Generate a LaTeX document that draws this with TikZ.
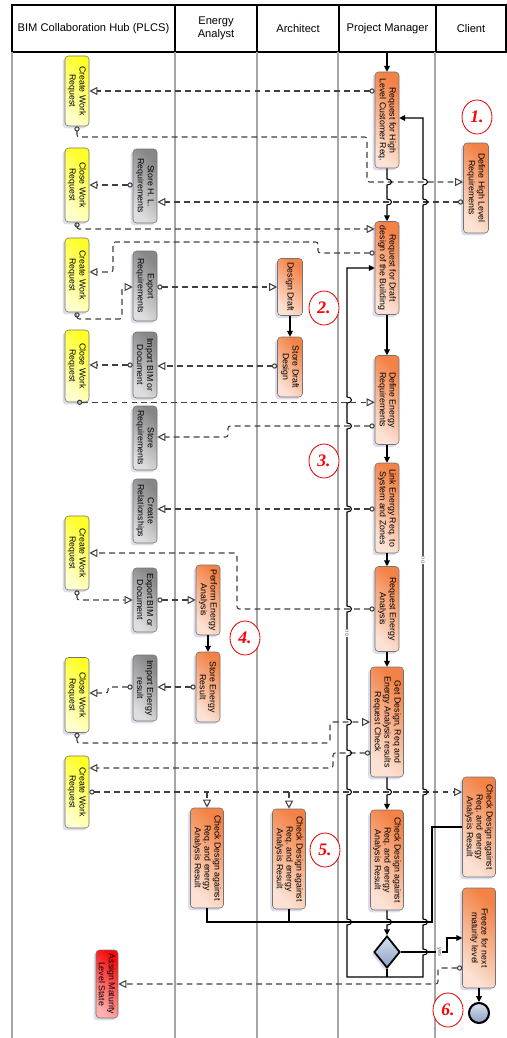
\documentclass[tikz,border=0pt]{standalone}
\usepackage{fontspec}
\setmainfont{Liberation Sans}
\newfontfamily\numfont{Liberation Serif}
\usetikzlibrary{arrows.meta,positioning,shapes.geometric,shadows}
\newlength\pxu
\setlength\pxu{0.03cm}
\definecolor{orD}{RGB}{243,130,70}
\definecolor{orL}{RGB}{252,226,212}
\definecolor{yelD}{RGB}{255,255,40}
\definecolor{yelL}{RGB}{255,255,205}
\definecolor{grD}{RGB}{135,135,135}
\definecolor{grL}{RGB}{222,222,222}
\definecolor{rdD}{RGB}{250,10,10}
\definecolor{rdL}{RGB}{255,175,175}
\definecolor{gateD}{RGB}{140,160,195}
\definecolor{gateL}{RGB}{215,225,240}

\begin{document}
\begin{tikzpicture}
  [x=0.03cm, y=-0.03cm, >=stealth,
  lane/.style={rectangle, draw=black, line width=1.6pt, fill=white, align=center,
    inner sep=0pt, font=\fontsize{9.5}{11}\selectfont},
  laneline/.style={draw=black!35, line width=1pt},
  task/.style={rectangle, rounded corners=3pt, draw=black!55, line width=0.5pt,
    rotate=-90, align=center, inner sep=1pt, font=\fontsize{7.5}{8.5}\selectfont,
    drop shadow={shadow xshift=-2pt, shadow yshift=-2pt, fill=blue!30!gray!30, opacity=0.7}},
  hubtask/.style={task, minimum height=24\pxu, top color=yelD, bottom color=yelL, shading angle=-45},
  hubstep/.style={task, minimum height=24\pxu, top color=grD, bottom color=grL, shading angle=-45},
  redtask/.style={task, minimum height=22\pxu, top color=rdD, bottom color=rdL, shading angle=-45},
  roletask/.style={task, minimum height=24\pxu, top color=orD, bottom color=orL, shading angle=-45},
  widetask/.style={roletask, minimum height=33\pxu},
  gate/.style={diamond, draw=black, line width=1.5pt, minimum width=26\pxu, minimum height=32\pxu,
    inner sep=0pt, top color=gateL, bottom color=gateD,
    drop shadow={shadow xshift=-2pt, shadow yshift=-2pt, fill=blue!30!gray!30, opacity=0.7}},
  endevent/.style={circle, draw=black, line width=1.8pt, minimum size=20\pxu, inner sep=0pt,
    top color=gateL, bottom color=gateD},
  stepnum/.style={ellipse, draw=red!90!black, line width=0.7pt, fill=white, text=red,
    font=\numfont\bfseries\itshape\fontsize{15}{15}\selectfont,
    minimum width=30\pxu, minimum height=34\pxu, inner sep=0pt},
  flowlabel/.style={rotate=-90, fill=white, inner sep=0.6pt, text=black!60,
    font=\fontsize{5}{5}\selectfont},
  msg/.style={draw=black!75, line width=0.9pt, dash pattern=on 5pt off 3.5pt, rounded corners=2pt,
    {Circle[open, length=4.5pt, width=4.5pt]}-{Triangle[open, length=7pt, width=7pt]}},
  msgbranch/.style={draw=black!75, line width=0.9pt, dash pattern=on 5pt off 3.5pt,
    -{Triangle[open, length=7pt, width=7pt]}},
  seq/.style={draw=black, line width=0.9pt, -{Triangle[length=5pt, width=5pt]}},
  seqline/.style={draw=black, line width=0.9pt}]

  \useasboundingbox (0,0) rectangle (507,1038);

  \node[lane, minimum width=163\pxu, minimum height=47\pxu] (hHub) at (93.5,28.5) {BIM Collaboration Hub (PLCS)};
  \node[lane, minimum width=82\pxu, minimum height=47\pxu] (hEA) at (216,28.5) {Energy\\Analyst};
  \node[lane, minimum width=82\pxu, minimum height=47\pxu] (hArch) at (298,28.5) {Architect};
  \node[lane, minimum width=97\pxu, minimum height=47\pxu] (hPM) at (387.5,28.5) {Project Manager};
  \node[lane, minimum width=70\pxu, minimum height=47\pxu] (hClient) at (471,28.5) {Client};
  \foreach \lx in {12,175,257,338,435}
    \draw[laneline] (\lx,52) -- (\lx,1038);

  \node[hubtask, minimum width=70\pxu] (y1) at (77,91) {Create Work\\Request};
  \node[hubtask, minimum width=74\pxu] (y2) at (77,185) {Close Work\\Request};
  \node[hubtask, minimum width=74\pxu] (y3) at (77,275) {Create Work\\Request};
  \node[hubtask, minimum width=72\pxu] (y4) at (77,366) {Close Work\\Request};
  \node[hubtask, minimum width=74\pxu] (y5) at (77,553) {Create Work\\Request};
  \node[hubtask, minimum width=75\pxu] (y6) at (77,695) {Close Work\\Request};
  \node[hubtask, minimum width=72\pxu] (y7) at (77,792) {Create Work\\Request};
  \node[redtask, minimum width=68\pxu] (assign) at (107,984) {Assign Maturity\\Level State};

  \node[hubstep, minimum width=74\pxu] (g1) at (145,186) {Store H. L.\\Requirements};
  \node[hubstep, minimum width=70\pxu] (g2) at (145,286) {Export\\Requirements};
  \node[hubstep, minimum width=66\pxu] (g3) at (145,365) {Import BIM or\\Document};
  \node[hubstep, minimum width=64\pxu] (g4) at (145,438) {Store\\Requirements};
  \node[hubstep, minimum width=64\pxu] (g5) at (145,511) {Create\\Relationships};
  \node[hubstep, minimum width=64\pxu] (g6) at (145,600) {Export BIM or\\Document};
  \node[hubstep, minimum width=66\pxu] (g7) at (145,688) {Import Energy\\result};

  \node[roletask, minimum width=70\pxu] (e1) at (208,600) {Perform Energy\\Analysis};
  \node[roletask, minimum width=70\pxu] (e2) at (208,687) {Store Energy\\Result};
  \node[widetask, minimum width=100\pxu] (e3) at (207,858) {Check Design against\\Req. and energy\\Analysis Result};

  \node[roletask, minimum width=57\pxu, minimum height=25\pxu] (a1) at (290,287) {Design Draft};
  \node[roletask, minimum width=60\pxu, minimum height=25\pxu] (a2) at (290,367) {Store Draft\\Design};
  \node[widetask, minimum width=100\pxu] (a3) at (289,859) {Check Design against\\Req. and energy\\Analysis Result};

  \node[roletask, minimum width=96\pxu] (p1) at (387,120) {Request for High\\Level Customer Req.};
  \node[roletask, minimum width=93\pxu] (p2) at (387,268) {Request for Draft\\design of the Building};
  \node[roletask, minimum width=89\pxu] (p3) at (387,400) {Define Energy\\Requirements};
  \node[roletask, minimum width=90\pxu] (p4) at (387,508) {Link Energy Req. to\\System and Zones};
  \node[roletask, minimum width=85\pxu] (p5) at (387,609) {Request Energy\\Analysis};
  \node[widetask, minimum width=110\pxu] (p6) at (387,722) {Get Design, Req and\\Energy Analysis results\\Request Check};
  \node[widetask, minimum width=100\pxu] (p7) at (387,860) {Check Design against\\Req. and energy\\Analysis Result};
  \node[gate] (gw) at (387,952) {};

  \node[roletask, minimum width=90\pxu, minimum height=25\pxu] (c1) at (476,188) {Define High Level\\Requirements};
  \node[widetask, minimum width=100\pxu] (c2) at (479,827) {Check Design against\\Req. and energy\\Analysis Result};
  \node[widetask, minimum width=100\pxu] (c3) at (479,938) {Freeze for next\\maturity level};
  \node[endevent] (stop) at (479,1013) {};

  \coordinate (pmtop) at (387,52);
  \coordinate (gwjoin) at (387,977);

  % message flows
  \draw[msg] (p1.south |- 0,91) -- (y1.north |- 0,91);
  \draw[msg] (y1.east) |- (367,137) |- (c1.south |- 0,182);
  \draw[msg] (c1.south |- 0,202) -- (g1.north |- 0,202);
  \draw[msg] (g1.south |- 0,185) -- (y2.north |- 0,185);
  \draw[msg] (y2.east) |- (p2.south |- 0,229);
  \draw[msg] (p2.south |- 0,253) -| (318,242) -| (113,272) -- (y3.north |- 0,272);
  \draw[msg] (y3.east) |- (122,319) |- (g2.south |- 0,287);
  \draw[msg] (g2.north |- 0,287) -- (a1.south |- 0,287);
  \draw[msg] (a2.south |- 0,366) -- (g3.north |- 0,366);
  \draw[msg] (g3.south |- 0,365) -- (y4.north |- 0,365);
  \draw[msg] (y4.east) -- (p3.south |- y4.east);
  \draw[msg] (p3.south |- 0,426) -| (228,437) -- (g4.north |- 0,437);
  \draw[msg] (p4.south |- 0,509) -- (g5.north |- 0,509);
  \draw[msg] (p5.south |- 0,609) -| (237,553) -- (y5.north |- 0,553);
  \draw[msg] (y5.east) |- (g6.south |- 0,600);
  \draw[msg] (g6.north |- 0,600) -- (e1.south |- 0,600);
  \draw[msg] (e2.south |- 0,687) -- (g7.north |- 0,687);
  \draw[msg] (g7.south |- 0,687) -- (108,687) |- (y6.north |- 0,693);
  \draw[msg] (y6.east) |- (330,743) |- (p6.south |- 0,722);
  \draw[msg] (p6.south |- 0,753) -| (333,768) -- (y7.north |- 0,768);
  \draw[msg] (y7.north |- 0,792) -- (c2.south |- 0,792);
  \draw[msgbranch] (e3.west |- 0,792) -- (e3.west);
  \draw[msgbranch] (a3.west |- 0,792) -- (a3.west);
  \draw[msg] (c3.south |- 0,968) -| (438,984) -- (assign.north |- 0,984);

  % sequence flows, with hops over crossing lines
  \draw[seq] (pmtop) -- (p1);
  \draw[seq] (p1.east) foreach \h in {182,202} {
    -- (387,\h-3) .. controls (393,\h-3) and (393,\h+3) .. (387,\h+3)} -- (p2.west);
  \draw[seq] (p2) -- (p3);
  \draw[seq] (p3) -- (p4);
  \draw[seq] (p4) -- (p5);
  \draw[seq] (p5) -- (p6);
  \draw[seq] (p6.east) -- (387,789) .. controls (393,789) and (393,795) .. (387,795) -- (p7.west);
  \draw[seq] (p7.east) -- (387,919) .. controls (393,919) and (393,925) .. (387,925) -- (gw.north);
  \draw[seq] (a1) -- (a2);
  \draw[seq] (e1) -- (e2);
  \draw[seq] (c3) -- (stop);
  \draw[seqline] (gw.south) -- (gwjoin);
  \draw[seq] (gwjoin) -- (347,977) foreach \h in {922,792,753,722,609,509,426,400} {
    -- (347,\h+3) .. controls (353,\h+3) and (353,\h-3) .. (347,\h-3)} -- (347,268) -- (p2.south |- 0,268);
  \draw[seq] (gwjoin) -- (423,977) foreach \h in {952,922,792,202,182} {
    -- (423,\h+3) .. controls (429,\h+3) and (429,\h-3) .. (423,\h-3)} -- (423,118) -- (p1.north |- 0,118);
  \draw[seq] (gw.east) -- (447,952) |- (c3.south |- 0,938);
  \draw[seqline] (e3.east) |- (432,922) |- (c2.south |- 0,827);
  \draw[seqline] (a3.east) -- (a3.east |- 0,922);

  \node[flowlabel] (no1) at (347,633) {no};
  \node[flowlabel] (no2) at (423,560) {no};
  \node[flowlabel] (yes) at (439,952) {yes};

  \node[stepnum] (s1) at (477,117) {1.};
  \node[stepnum] (s2) at (324,308) {2.};
  \node[stepnum] (s3) at (324,461) {3.};
  \node[stepnum] (s4) at (245,638) {4.};
  \node[stepnum] (s5) at (325,850) {5.};
  \node[stepnum] (s6) at (448,1010) {6.};
\end{tikzpicture}
\end{document}
